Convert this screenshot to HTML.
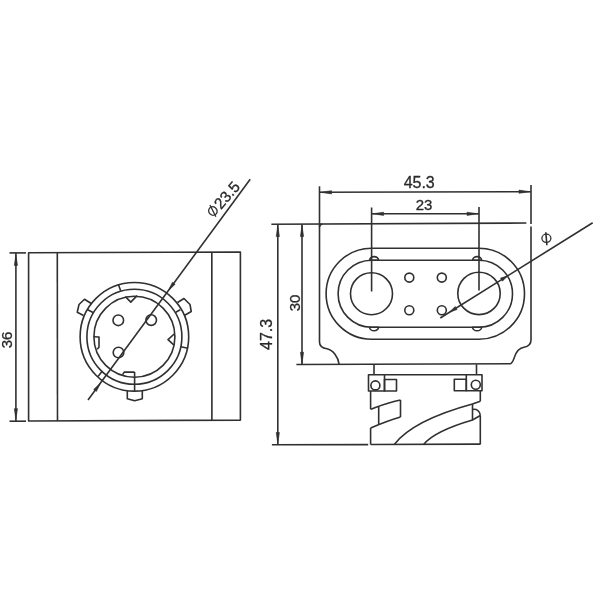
<!DOCTYPE html>
<html><head><meta charset="utf-8"><style>
html,body{margin:0;padding:0;background:#fff;width:600px;height:600px;overflow:hidden}
svg{display:block;will-change:transform}
svg *{fill:none;stroke:#303030;stroke-width:1.6;stroke-linejoin:round;stroke-linecap:butt}
svg .f{fill:#303030;stroke:#303030;stroke-width:0.6}
svg text{fill:#2a2a2a;stroke:#2a2a2a;stroke-width:0.3;font-family:"Liberation Sans",sans-serif}
</style></head><body>
<svg width="600" height="600" viewBox="0 0 600 600">
<rect x="0" y="0" width="600" height="600" style="fill:#fff;stroke:none"/>
<polygon points="28.60,252.70 240.40,252.00 240.40,420.10 28.60,421.00"/>
<line x1="57.30" y1="252.60" x2="57.50" y2="420.90"/>
<line x1="211.80" y1="252.10" x2="211.90" y2="420.20"/>
<line x1="9.50" y1="252.90" x2="26.00" y2="252.90"/>
<line x1="9.50" y1="421.20" x2="26.00" y2="421.20"/>
<line x1="15.90" y1="252.90" x2="15.90" y2="421.20"/>
<polygon class="f" points="15.90,254.90 17.50,265.40 14.30,265.40"/>
<polygon class="f" points="15.90,419.20 14.30,408.70 17.50,408.70"/>
<text x="12.00" y="340.00" font-size="15" text-anchor="middle" transform="rotate(-90 12.00 340.00)">36</text>
<circle cx="134.40" cy="336.80" r="54.30"/>
<circle cx="134.40" cy="336.80" r="47.50"/>
<circle cx="134.40" cy="336.80" r="40.50"/>
<line x1="118.30" y1="284.20" x2="120.70" y2="290.80"/>
<line x1="87.25" y1="309.50" x2="93.50" y2="312.75"/>
<line x1="175.75" y1="312.25" x2="180.25" y2="309.75"/>
<line x1="180.70" y1="346.70" x2="188.00" y2="348.30"/>
<line x1="102.00" y1="371.50" x2="98.00" y2="376.50"/>
<line x1="134.60" y1="372.00" x2="134.60" y2="390.80"/>
<polyline points="91.25,303.50 84.50,299.25 79.00,304.50 77.25,312.25 83.50,315.50"/>
<polyline points="177.50,302.50 184.00,298.50 190.00,304.50 191.25,311.50 184.75,315.25"/>
<polyline points="127.30,390.60 127.30,398.70 134.70,400.80 142.30,398.70 142.30,390.40"/>
<polyline points="125.40,296.60 130.80,302.10 137.10,295.60"/>
<polyline points="174.20,334.00 168.00,339.70 174.00,345.20"/>
<polyline points="94.00,336.80 99.00,337.00 99.00,347.30 97.20,349.30"/>
<polyline points="122.60,374.60 124.20,372.10 134.60,372.10"/>
<circle cx="118.30" cy="320.30" r="5.30"/>
<circle cx="151.20" cy="320.10" r="5.30"/>
<circle cx="118.50" cy="352.50" r="5.30"/>
<line x1="88.00" y1="400.00" x2="250.20" y2="179.20"/>
<polygon class="f" points="100.38,383.15 96.42,391.41 93.68,389.40"/>
<polygon class="f" points="168.46,290.47 172.42,282.21 175.16,284.23"/>
<g transform="translate(223.4,198.6) rotate(-49)"><ellipse cx="-16.25" cy="0.2" rx="4.1" ry="4.4" style="stroke-width:1.3"/><line x1="-13.6" y1="-6.0" x2="-18.6" y2="6.2" style="stroke-width:1.3"/><text x="-10.1" y="5.6" font-size="15.5">23.5</text></g>
<line x1="271.40" y1="224.30" x2="526.40" y2="223.00"/>
<line x1="319.50" y1="186.30" x2="319.50" y2="224.30"/>
<path d="M319.5,227 Q319.6,224.4 322.3,224.3"/>
<path d="M319.5,224.3 L319.5,342 C319.5,346.5 322.5,348.2 327,348.8 C333,350 338.2,357 339.2,364.5"/>
<line x1="296.40" y1="364.50" x2="510.00" y2="363.80"/>
<path d="M510,363.8 C512.5,363.8 513,361 514.5,357 C516.5,351 520,347.8 524,347.2 C529,346.5 531.0,344 531.0,340 L531.0,226.6"/>
<line x1="531.00" y1="185.00" x2="531.00" y2="224.00"/>
<line x1="319.50" y1="192.30" x2="531.00" y2="191.70"/>
<polygon class="f" points="320.50,192.30 331.50,190.70 331.50,193.90"/>
<polygon class="f" points="530.00,191.70 519.00,193.30 519.00,190.10"/>
<text x="419.20" y="187.60" font-size="16" text-anchor="middle">45.3</text>
<line x1="371.60" y1="207.50" x2="371.60" y2="291.50"/>
<line x1="479.00" y1="207.00" x2="479.00" y2="290.50"/>
<line x1="371.60" y1="213.80" x2="479.00" y2="213.80"/>
<polygon class="f" points="372.60,213.80 383.60,212.20 383.60,215.40"/>
<polygon class="f" points="478.00,213.80 467.00,215.40 467.00,212.20"/>
<text x="424.00" y="210.20" font-size="15" text-anchor="middle">23</text>
<line x1="277.80" y1="224.30" x2="277.80" y2="444.50"/>
<polygon class="f" points="277.80,225.60 279.40,236.60 276.20,236.60"/>
<polygon class="f" points="277.80,443.50 276.20,432.50 279.40,432.50"/>
<line x1="302.00" y1="224.30" x2="302.00" y2="364.30"/>
<polygon class="f" points="302.00,225.60 303.60,236.60 300.40,236.60"/>
<polygon class="f" points="302.00,363.30 300.40,352.30 303.60,352.30"/>
<text x="271.60" y="334.40" font-size="16" text-anchor="middle" transform="rotate(-90 271.60 334.40)">47.3</text>
<text x="299.60" y="303.00" font-size="15" text-anchor="middle" transform="rotate(-90 299.60 303.00)">30</text>
<line x1="271.90" y1="444.80" x2="368.20" y2="444.60"/>
<path d="M371.6,248.2 L479.0,248.2 A45.5,45.5 0 0 1 479.0,339.2 L371.6,339.2 A45.5,45.5 0 0 1 371.6,248.2 Z"/>
<path d="M371.6,260.2 L479.0,260.2 A33.5,33.5 0 0 1 479.0,327.2 L371.6,327.2 A33.5,33.5 0 0 1 371.6,260.2 Z"/>
<circle cx="371.50" cy="293.70" r="21.00"/>
<circle cx="479.00" cy="293.40" r="21.20"/>
<circle cx="409.30" cy="277.60" r="4.50"/>
<circle cx="441.80" cy="277.60" r="4.50"/>
<circle cx="409.30" cy="310.20" r="4.50"/>
<circle cx="441.80" cy="310.20" r="4.50"/>
<path d="M369.6,260.2 A4.5,3.6 0 0 1 378.6,260.2 Z"/>
<path d="M369.6,327.2 A4.5,3.6 0 0 0 378.6,327.2 Z"/>
<path d="M472.6,260.2 A4.5,3.6 0 0 1 481.6,260.2 Z"/>
<path d="M472.6,327.2 A4.5,3.6 0 0 0 481.6,327.2 Z"/>
<line x1="592.70" y1="222.70" x2="440.30" y2="318.00"/>
<polygon class="f" points="507.40,275.94 502.42,281.18 500.51,278.12"/>
<polygon class="f" points="449.75,311.99 455.15,306.49 457.06,309.54"/>
<ellipse cx="546.4" cy="238.3" rx="4.5" ry="4.1" style="stroke-width:1.3"/>
<line x1="545.80" y1="232.20" x2="546.90" y2="245.20" stroke-width="1.3"/>
<line x1="374.00" y1="364.30" x2="374.00" y2="374.80"/>
<line x1="476.50" y1="364.30" x2="476.50" y2="374.80"/>
<line x1="384.50" y1="374.80" x2="466.30" y2="374.80"/>
<polygon points="368.50,374.80 384.50,374.80 384.50,391.00 368.50,391.00"/>
<polygon points="384.50,379.50 396.50,379.50 396.50,391.00 384.50,391.00"/>
<circle cx="375.40" cy="385.40" r="4.50"/>
<polygon points="466.30,374.80 482.00,374.80 482.00,390.80 466.30,390.80"/>
<polygon points="454.30,379.20 466.30,379.20 466.30,390.80 454.30,390.80"/>
<circle cx="475.80" cy="384.80" r="4.50"/>
<line x1="370.60" y1="391.00" x2="370.60" y2="409.20"/>
<path d="M370.6,409.2 C379,406.2 388,402.5 400.5,400.0"/>
<line x1="400.50" y1="400.00" x2="400.50" y2="417.00"/>
<path d="M400.5,417 C390,420 380,424 370.6,428"/>
<line x1="378.70" y1="406.80" x2="378.70" y2="424.60"/>
<line x1="370.60" y1="428.00" x2="370.60" y2="444.50"/>
<line x1="370.60" y1="444.50" x2="480.30" y2="444.10"/>
<line x1="480.30" y1="390.80" x2="480.30" y2="401.30"/>
<path d="M480.3,401.3 L472.4,404 C445,411.5 410,424 394.3,444.4"/>
<line x1="472.50" y1="404.00" x2="472.50" y2="420.00"/>
<path d="M472.5,409.5 C476.5,408.5 480.3,411.5 480.3,415.3"/>
<path d="M480.3,415.5 L472.5,420 C452,426 432,434 423.7,444.4"/>
<line x1="480.30" y1="415.30" x2="480.30" y2="444.40"/>
</svg>
</body></html>
